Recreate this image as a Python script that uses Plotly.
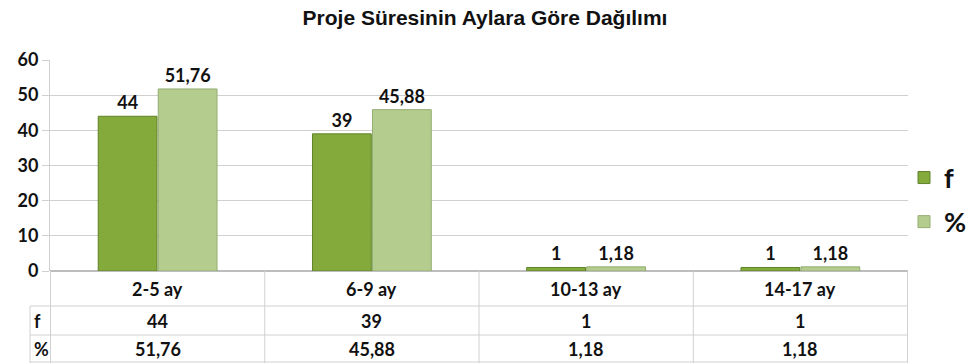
import plotly.graph_objects as go

# Project duration by month ranges
categories = ["2-5 ay", "6-9 ay", "10-13 ay", "14-17 ay"]
f_values = [44, 39, 1, 1]
pct_values = [51.76, 45.88, 1.18, 1.18]
series_names = ["f", "%"]
y_ticks = [0, 10, 20, 30, 40, 50, 60]

W, H = 970, 363
FONT = "Lato"
GRID = "#d0d0d0"
INK = "#111111"


def fmt(v):
    return f"{v:g}".replace(".", ",")


def py(px):
    # pixel row -> paper y
    return (H - px) / H


def px_x(px):
    return px / W


fig = go.Figure()
fig.add_bar(
    x=categories, y=f_values, name=series_names[0],
    marker=dict(color="#84aa3c", line=dict(color="#5f822a", width=1)),
    text=[fmt(v) for v in f_values], textposition="outside",
    textfont=dict(family=FONT, size=18, color=INK, weight="bold"),
    cliponaxis=False, legendgroup="a",
)
fig.add_bar(
    x=categories, y=pct_values, name=series_names[1],
    marker=dict(color="#b4cd8f", line=dict(color="#93ad70", width=1)),
    text=[fmt(v) for v in pct_values], textposition="outside",
    textfont=dict(family=FONT, size=18, color=INK, weight="bold"),
    cliponaxis=False, legendgroup="b",
)

x0, x1 = px_x(50), px_x(908)
fig.update_layout(
    width=W, height=H,
    margin=dict(l=0, r=0, t=0, b=0, autoexpand=False),
    paper_bgcolor="white", plot_bgcolor="white",
    barmode="group", bargap=0.44, bargroupgap=0.02,
    font=dict(family=FONT, color=INK),
    title=dict(
        text="<b>Proje Süresinin Aylara Göre Dağılımı</b>",
        x=0.5, xanchor="center", y=py(18), yanchor="middle",
        font=dict(family="Liberation Sans", size=21, color=INK),
    ),
    xaxis=dict(
        domain=[x0, x1], showticklabels=False, showgrid=False,
        zeroline=False, showline=False, fixedrange=True,
    ),
    yaxis=dict(
        domain=[py(271), py(60)], range=[0, 60], tickvals=y_ticks,
        showgrid=True, gridcolor=GRID, gridwidth=1,
        ticks="outside", ticklen=7, tickcolor=GRID,
        showline=True, linecolor=GRID, linewidth=1,
        tickfont=dict(family=FONT, size=18, color=INK, weight="bold"),
        zeroline=True, zerolinecolor="#bdbdbd",
    ),
    legend=dict(
        x=px_x(904), xanchor="left", y=py(200), yanchor="middle",
        font=dict(family=FONT, size=27, color=INK, weight="bold"),
        traceorder="grouped", tracegroupgap=6,
        bgcolor="rgba(0,0,0,0)",
    ),
)

# Data table under the plot
shapes = []
for r in [306, 335, 362]:
    shapes.append(dict(type="line", xref="paper", yref="paper",
                       x0=px_x(30), x1=x1, y0=py(r), y1=py(r),
                       line=dict(color=GRID, width=1)))
for i in range(len(categories) + 1):
    shapes.append(dict(type="line", xref="x", yref="paper",
                       x0=i - 0.5, x1=i - 0.5, y0=py(271), y1=py(363),
                       line=dict(color=GRID, width=1)))
shapes.append(dict(type="line", xref="paper", yref="paper",
                   x0=px_x(30), x1=px_x(30), y0=py(306), y1=py(363),
                   line=dict(color=GRID, width=1)))
fig.update_layout(shapes=shapes)

annos = []
rows = [(289, categories), (321, [fmt(v) for v in f_values]),
        (349, [fmt(v) for v in pct_values])]
for ypx, labels in rows:
    for c, lab in zip(categories, labels):
        annos.append(dict(x=c, xref="x", y=py(ypx), yref="paper",
                          yanchor="middle", text=f"<b>{lab}</b>",
                          showarrow=False,
                          font=dict(family=FONT, size=18, color=INK)))
for ypx, name in zip([321, 349], series_names):
    annos.append(dict(x=px_x(32), xref="paper", y=py(ypx), yref="paper",
                      xanchor="left", yanchor="middle",
                      text=f"<b>{name}</b>", showarrow=False,
                      font=dict(family=FONT, size=18, color=INK)))
fig.update_layout(annotations=annos)

fig.write_html("out.html")
